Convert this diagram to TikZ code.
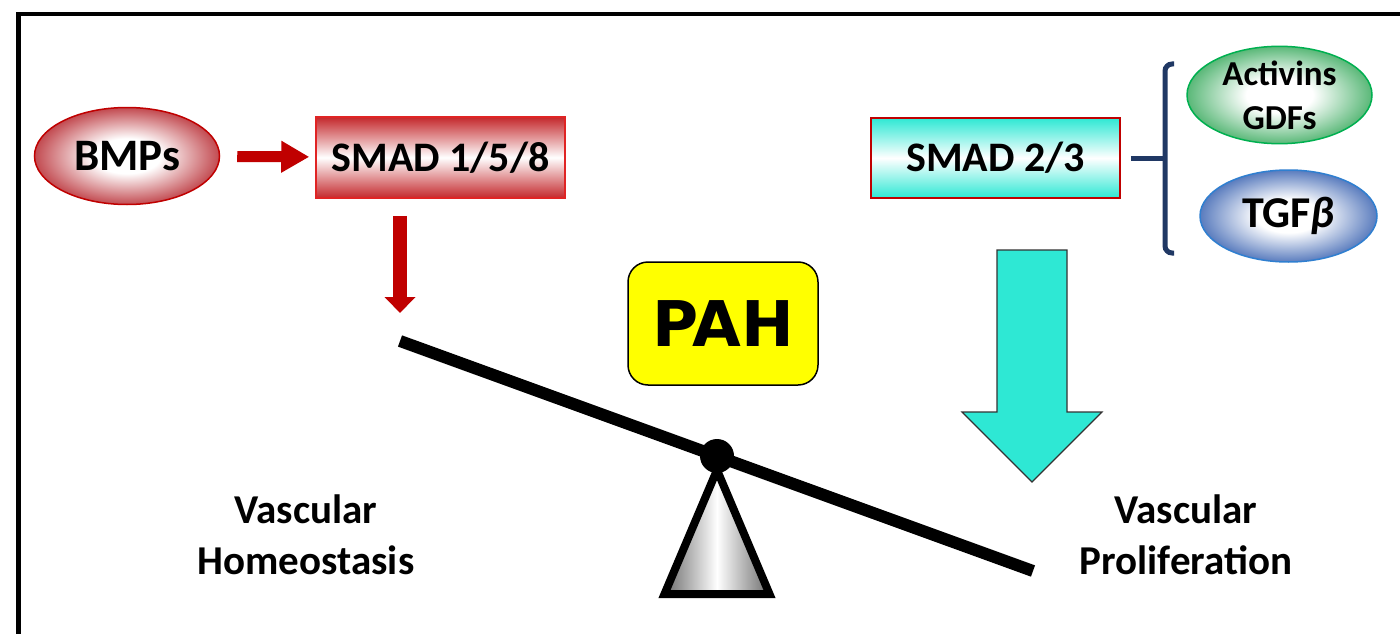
\documentclass[tikz,border=0pt]{standalone}
\usepackage{fontspec}
\setmainfont{Carlito}
\newfontfamily\pahfont{DejaVu Sans}
\usetikzlibrary{arrows.meta,shapes.geometric}
\definecolor{darkred}{HTML}{C00000}
\definecolor{boxred}{HTML}{E02424}
\definecolor{gradred}{HTML}{C4282C}
\definecolor{bmpedge}{HTML}{C24A50}
\definecolor{turq}{HTML}{2EE8D4}
\definecolor{actgreen}{HTML}{00B050}
\definecolor{actedge}{HTML}{5AB878}
\definecolor{tgfblue}{HTML}{2F7FD0}
\definecolor{tgfedge}{HTML}{5A7CBE}
\definecolor{navy}{HTML}{203864}
\definecolor{pahyellow}{HTML}{FFFF00}
\pgfdeclareradialshading{bmpshade}{\pgfpoint{0bp}{0bp}}{color(0bp)=(white); color(9bp)=(white); color(25bp)=(bmpedge); color(50bp)=(bmpedge)}
\pgfdeclareradialshading{actshade}{\pgfpoint{0bp}{0bp}}{color(0bp)=(white); color(9bp)=(white); color(25bp)=(actedge); color(50bp)=(actedge)}
\pgfdeclareradialshading{tgfshade}{\pgfpoint{0bp}{0bp}}{color(0bp)=(white); color(9bp)=(white); color(25bp)=(tgfedge); color(50bp)=(tgfedge)}
\tikzset{
  lig/.style={ellipse, inner sep=0pt, line width=1.5pt, font=\bfseries},
  smadbox/.style={rectangle, inner sep=0pt, line width=1.5pt, font=\fontsize{42}{50}\selectfont\bfseries},
  redarrow/.style={draw=darkred, line width=11pt, -{Triangle[length=28pt,width=30pt]}},
  downarrow/.style={draw=darkred, line width=14pt, -{Triangle[length=16pt,width=30pt]}},
  beam/.style={line width=12pt, black},
  bracket/.style={draw=navy, line width=5pt},
  lbl/.style={align=center, font=\fontsize{41}{51}\selectfont\bfseries},
}
\begin{document}
\begin{tikzpicture}[x=1pt,y=-1pt]
\useasboundingbox (0,0) rectangle (1400,634);
\fill[white] (0,0) rectangle (1400,634);
% frame
\draw[line width=4.5pt] (18.5,634) -- (18.5,14) -- (1400,14);
% left branch
\node[lig, draw=darkred, shading=bmpshade, minimum width=185pt, minimum height=97pt,
      font=\fontsize{45}{54}\selectfont\bfseries] (bmps) at (127,156) {BMPs};
\node[smadbox, draw=boxred, top color=gradred, bottom color=gradred, middle color=white,
      minimum width=249pt, minimum height=81pt] (smad158) at (440.5,157.5) {SMAD 1/5/8};
\draw[redarrow, shorten <=17pt, shorten >=6pt] (bmps) -- (smad158);
% right branch
\node[smadbox, draw=darkred, top color=turq, bottom color=turq, middle color=white,
      minimum width=249pt, minimum height=80pt] (smad23) at (995.5,158) {SMAD 2/3};
\node[lig, draw=actgreen, shading=actshade, minimum width=185pt, minimum height=96pt,
      align=center, font=\fontsize{35}{44}\selectfont\bfseries] (act) at (1279.5,95) {Activins\\GDFs};
\node[lig, draw=tgfblue, shading=tgfshade, minimum width=177pt, minimum height=92pt,
      font=\fontsize{44}{52}\selectfont\bfseries] (tgf) at (1288.5,216) {TGF\textit{β}};
\coordinate (brk) at (1165,158);
\draw[bracket, rounded corners=7pt] (1174,64) -- (1165,64) -- (1165,253) -- (1174,253);
\draw[bracket, shorten <=10pt] (smad23) -- (brk);
% seesaw
\coordinate (beamL) at (400,341);
\coordinate (beamR) at (1033,571);
\draw[downarrow, shorten <=17pt, shorten >=28pt] (smad158.south -| beamL) -- (beamL);
\node[draw=black, line width=1.5pt, fill=pahyellow, rounded corners=20pt,
      minimum width=190pt, minimum height=123pt, inner sep=0pt,
      font=\pahfont\fontsize{63}{70}\selectfont\bfseries] (pah) at (723,323.5) {PAH};
\draw[line width=8pt, left color=gray!85!black, right color=gray!85!black, middle color=white]
  (717,470) -- (664.5,594) -- (769.5,594) -- cycle;
\draw[beam] (beamL) -- (beamR);
\node[circle, fill=black, minimum size=34pt, inner sep=0pt] (pivot) at (717,456) {};
% cyan arrow
\draw[fill=turq, draw=black!80, line width=1.2pt]
  (997,250) -- (1067,250) -- (1067,412) -- (1102,412) -- (1032,482) -- (962,412) -- (997,412) -- cycle;
% labels
\node[lbl] (homeo) at (306,535) {Vascular\\Homeostasis};
\node[lbl] (prolif) at (1186,535) {Vascular\\Proliferation};
\end{tikzpicture}
\end{document}
